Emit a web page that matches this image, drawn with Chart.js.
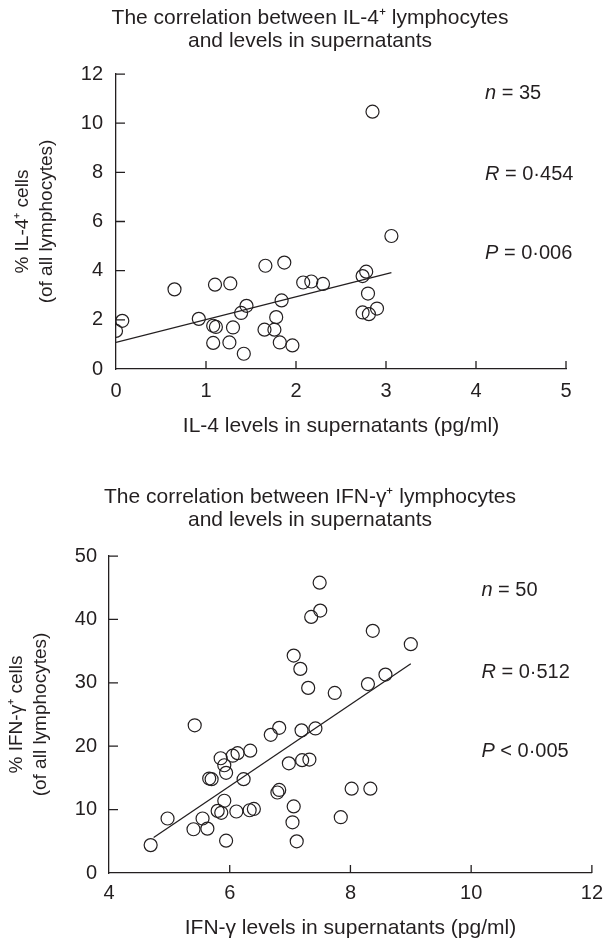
<!DOCTYPE html>
<html lang="en">
<head>
<meta charset="UTF-8">
<title>IL-4 and IFN-γ lymphocytes vs supernatant levels</title>
<script src="https://cdn.jsdelivr.net/npm/chart.js"></script>
<style>
  html, body { margin: 0; padding: 0; background: #fff; overflow: hidden; }
  .panel { position: absolute; left: 0; width: 611px; }
  #top { top: 0; height: 470px; }
  #bottom { top: 470px; height: 475px; }
</style>
</head>
<body>
<div class="panel" id="top"><canvas id="il4Chart" width="611" height="470"></canvas></div>
<div class="panel" id="bottom"><canvas id="ifnChart" width="611" height="475"></canvas></div>
<script>
// IL-4: level in supernatant (pg/ml) vs % IL-4+ cells
const il4Levels = [0, 0.07, 0.65, 0.92, 1.08, 1.11, 1.08, 1.10, 1.27, 1.26, 1.30, 1.39, 1.45, 1.42,
  1.66, 1.65, 1.76, 1.78, 1.84, 1.82, 1.87, 1.96, 2.08, 2.17, 2.30, 2.74, 2.78, 2.80, 2.74, 2.81,
  2.90, 2.85, 3.06];
const il4Cells = [1.55, 1.96, 3.24, 2.04, 1.76, 1.71, 1.06, 3.43, 3.48, 1.08, 1.69, 2.28, 2.57, 0.62,
  4.20, 1.60, 1.60, 2.11, 2.79, 1.08, 4.33, 0.96, 3.52, 3.56, 3.46, 3.78, 3.96, 3.07, 2.30, 2.23,
  2.46, 10.47, 5.41];
const il4FitX = [0, 3.06];
const il4FitY = [1.08, 3.92];
const il4XTicks = [0, 1, 2, 3, 4, 5];
const il4YTicks = [0, 2, 4, 6, 8, 10, 12];
const il4StatSymbols = ['n', 'R', 'P'];
const il4StatValues = ['= 35', '= 0·454', '= 0·006'];

// IFN-γ: level in supernatant (pg/ml) vs % IFN-γ+ cells
const ifnLevels = [4.69, 4.97, 5.42, 5.40, 5.55, 5.63, 5.66, 5.70, 5.80, 5.86, 5.91, 5.94, 5.85, 5.91,
  5.94, 6.05, 6.13, 6.11, 6.23, 6.33, 6.40, 6.34, 6.68, 6.82, 6.79, 6.82, 6.98, 7.06, 7.04, 7.11,
  7.06, 7.17, 7.19, 7.20, 7.32, 7.30, 7.35, 7.50, 7.49, 7.42, 7.74, 7.84, 8.02, 8.29, 8.33, 8.37,
  8.58, 9.00];
const ifnCells = [4.4, 8.6, 23.3, 6.9, 8.6, 7.0, 14.9, 14.8, 9.8, 9.5, 11.4, 5.1, 18.1, 17.0,
  15.8, 18.5, 18.9, 9.7, 14.8, 9.9, 10.1, 19.3, 21.8, 22.9, 12.7, 13.1, 17.3, 10.5, 8.0, 5.0,
  34.3, 32.2, 22.5, 17.8, 17.9, 29.2, 40.4, 41.4, 45.8, 22.8, 28.4, 8.8, 13.3, 29.8, 13.3, 38.2,
  31.3, 36.1];
const ifnFitX = [4.74, 9.0];
const ifnFitY = [5.6, 33.0];
const ifnXTicks = [4, 6, 8, 10, 12];
const ifnYTicks = [0, 10, 20, 30, 40, 50];
const ifnStatSymbols = ['n', 'R', 'P'];
const ifnStatValues = ['= 50', '= 0·512', '< 0·005'];

const ink = '#231f20';
const fontFamily = '"Liberation Sans", Arial, Helvetica, sans-serif';
Chart.defaults.font.family = fontFamily;
Chart.defaults.color = ink;

const toPoints = (xs, ys) => xs.map((x, i) => ({ x: x, y: ys[i] }));

// ticks on the inside of both axes, plus the n / R / P block
const axisExtras = {
  id: 'axisExtras',
  afterDraw(chart, args, opts) {
    const { ctx, chartArea } = chart;
    const x = chart.scales.x, y = chart.scales.y;
    ctx.save();
    ctx.strokeStyle = ink;
    ctx.lineWidth = 1.3;
    ctx.beginPath();
    x.ticks.forEach(t => {
      if (t.value === x.min) return;
      const px = x.getPixelForValue(t.value);
      ctx.moveTo(px, chartArea.bottom);
      ctx.lineTo(px, chartArea.bottom - 8);
    });
    y.ticks.forEach(t => {
      if (t.value === y.min) return;
      const py = y.getPixelForValue(t.value);
      ctx.moveTo(chartArea.left, py);
      ctx.lineTo(chartArea.left + 9, py);
    });
    ctx.stroke();

    ctx.fillStyle = ink;
    ctx.textBaseline = 'middle';
    ctx.textAlign = 'left';
    opts.symbols.forEach((sym, i) => {
      const px = x.getPixelForValue(opts.at);
      const py = y.getPixelForValue(opts.rows[i]);
      ctx.font = 'italic 20px ' + fontFamily;
      ctx.fillText(sym, px, py);
      const w = ctx.measureText(sym).width;
      ctx.font = '20px ' + fontFamily;
      ctx.fillText(' ' + opts.values[i], px + w, py);
    });
    ctx.restore();
  }
};

function makeChart(id, cfg) {
  return new Chart(document.getElementById(id), {
    type: 'scatter',
    data: {
      datasets: [
        {
          data: toPoints(cfg.fitX, cfg.fitY),
          showLine: true,
          borderColor: ink,
          borderWidth: 1.3,
          pointRadius: 0
        },
        {
          data: toPoints(cfg.xs, cfg.ys),
          pointRadius: 6.5,
          borderWidth: 1.2,
          borderColor: ink,
          backgroundColor: 'rgba(0,0,0,0)'
        }
      ]
    },
    options: {
      responsive: false,
      animation: false,
      layout: { padding: { left: 9, right: 0, top: 0, bottom: 0 } },
      plugins: {
        legend: { display: false },
        tooltip: { enabled: false },
        title: {
          display: true,
          text: cfg.title,
          color: ink,
          font: { size: 21, weight: 'normal', lineHeight: 1.12 },
          padding: cfg.titlePad
        },
        axisExtras: { symbols: cfg.statSymbols, values: cfg.statValues, at: cfg.statX, rows: cfg.statRows }
      },
      scales: {
        x: {
          type: 'linear',
          min: cfg.xTicks[0],
          max: cfg.xTicks[cfg.xTicks.length - 1],
          afterBuildTicks: s => { s.ticks = cfg.xTicks.map(v => ({ value: v })); },
          afterFit: s => { s.height = cfg.xHeight; },
          grid: { display: false, drawTicks: false },
          border: { color: ink, width: 1.3 },
          ticks: { color: ink, font: { size: 20 }, padding: cfg.xTickPad, maxRotation: 0, autoSkip: false },
          title: {
            display: true,
            text: cfg.xTitle,
            color: ink,
            font: { size: 21, lineHeight: 1.2 },
            padding: { top: 0, bottom: cfg.xTitlePad }
          }
        },
        y: {
          type: 'linear',
          min: cfg.yTicks[0],
          max: cfg.yTicks[cfg.yTicks.length - 1],
          afterBuildTicks: s => { s.ticks = cfg.yTicks.map(v => ({ value: v })); },
          afterFit: s => { s.width = cfg.yWidth; },
          grid: { display: false, drawTicks: false },
          border: { color: ink, width: 1.3 },
          ticks: { color: ink, font: { size: 20 }, padding: cfg.yTickPad },
          title: {
            display: true,
            text: cfg.yTitle,
            color: ink,
            font: { size: 19, lineHeight: 1.3 },
            padding: { top: cfg.yTitlePad, bottom: 0 }
          }
        },
        // empty right-hand gutter so the title stays centred on the page
        gutter: {
          axis: 'y',
          position: 'right',
          afterFit: s => { s.width = cfg.gutter; },
          grid: { display: false, drawTicks: false },
          border: { display: false },
          ticks: { display: false }
        }
      }
    },
    plugins: [axisExtras]
  });
}

makeChart('il4Chart', {
  xs: il4Levels, ys: il4Cells, fitX: il4FitX, fitY: il4FitY,
  xTicks: il4XTicks, yTicks: il4YTicks,
  title: ['The correlation between IL-4⁺ lymphocytes', 'and levels in supernatants'],
  titlePad: { top: 6, bottom: 21 },
  xTitle: 'IL-4 levels in supernatants (pg/ml)',
  yTitle: ['% IL-4⁺ cells', '(of all lymphocytes)'],
  gutter: 45, xHeight: 101, xTickPad: 10, xTitlePad: 31,
  yWidth: 107, yTickPad: 13, yTitlePad: 1,
  statSymbols: il4StatSymbols, statValues: il4StatValues, statX: 4.1, statRows: [11.2, 7.9, 4.7]
});

makeChart('ifnChart', {
  xs: ifnLevels, ys: ifnCells, fitX: ifnFitX, fitY: ifnFitY,
  xTicks: ifnXTicks, yTicks: ifnYTicks,
  title: ['The correlation between IFN-γ⁺ lymphocytes', 'and levels in supernatants'],
  titlePad: { top: 15, bottom: 24 },
  xTitle: 'IFN-γ levels in supernatants (pg/ml)',
  yTitle: ['% IFN-γ⁺ cells', '(of all lymphocytes)'],
  gutter: 13, xHeight: 72, xTickPad: 8, xTitlePad: 4,
  yWidth: 100, yTickPad: 12, yTitlePad: -5,
  statSymbols: ifnStatSymbols, statValues: ifnStatValues, statX: 10.17, statRows: [44.5, 31.6, 19.1]
});
</script>
</body>
</html>
